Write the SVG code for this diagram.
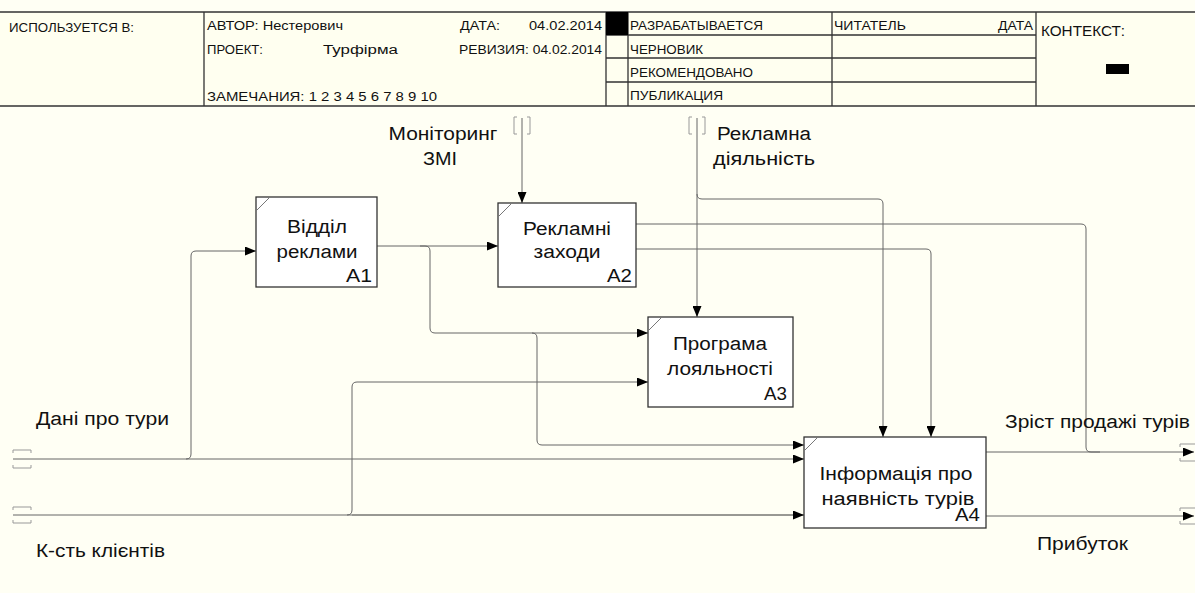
<svg xmlns="http://www.w3.org/2000/svg" width="1195" height="593" viewBox="0 0 1195 593">
<style>
.hdr{font-family:"Liberation Sans",Arial,sans-serif;font-size:12.5px;fill:#111}
.lbl{font-family:"Liberation Sans",Arial,sans-serif;font-size:18px;fill:#111}
.box{fill:#ffffff;stroke:#333;stroke-width:1.3}
.diag{stroke:#777;stroke-width:1}
.cn{fill:none;stroke:#666;stroke-width:1}
.tn{fill:none;stroke:#999;stroke-width:1}
.hl{stroke:#333;stroke-width:1.3;fill:none}
</style>
<defs>
<marker id="ah" markerUnits="userSpaceOnUse" markerWidth="11" markerHeight="9" refX="11" refY="4.5" orient="auto">
<path d="M0,0 L11,4.5 L0,9 z" fill="#000"/>
</marker>
</defs>
<rect x="0" y="0" width="1195" height="593" fill="#fffff4"/>
<g id="header">
<rect x="0" y="12" width="1195" height="94" fill="#fffff0" stroke="none"/>
<path class="hl" d="M0,12 H1195 M0,106 H1195 M204,12 V106 M606,12 V106 M628,12 V106 M832,12 V106 M1036,12 V106 M606,35 H1036 M606,58 H1036 M606,82 H1036"/>
<rect x="606" y="12" width="22" height="23" fill="#000"/>
<rect x="1106" y="64" width="23" height="10" fill="#000"/>
<text class="hdr" x="9" y="32" textLength="125" lengthAdjust="spacingAndGlyphs">ИСПОЛЬЗУЕТСЯ В:</text>
<text class="hdr" x="207" y="30" textLength="136" lengthAdjust="spacingAndGlyphs">АВТОР: Нестерович</text>
<text class="hdr" x="207" y="54" textLength="56" lengthAdjust="spacingAndGlyphs">ПРОЕКТ:</text>
<text class="hdr" x="323" y="54" textLength="75" lengthAdjust="spacingAndGlyphs">Турфірма</text>
<text class="hdr" x="207" y="101" textLength="230" lengthAdjust="spacingAndGlyphs">ЗАМЕЧАНИЯ: 1 2 3 4 5 6 7 8 9 10</text>
<text class="hdr" x="460" y="30" textLength="40" lengthAdjust="spacingAndGlyphs">ДАТА:</text>
<text class="hdr" x="529" y="30" textLength="73" lengthAdjust="spacingAndGlyphs">04.02.2014</text>
<text class="hdr" x="459" y="54" textLength="143" lengthAdjust="spacingAndGlyphs">РЕВИЗИЯ: 04.02.2014</text>
<text class="hdr" x="630" y="30" textLength="133" lengthAdjust="spacingAndGlyphs">РАЗРАБАТЫВАЕТСЯ</text>
<text class="hdr" x="630" y="54" textLength="73" lengthAdjust="spacingAndGlyphs">ЧЕРНОВИК</text>
<text class="hdr" x="630" y="77" textLength="123" lengthAdjust="spacingAndGlyphs">РЕКОМЕНДОВАНО</text>
<text class="hdr" x="630" y="100" textLength="93" lengthAdjust="spacingAndGlyphs">ПУБЛИКАЦИЯ</text>
<text class="hdr" x="834" y="30" textLength="72" lengthAdjust="spacingAndGlyphs">ЧИТАТЕЛЬ</text>
<text class="hdr" x="998" y="30" textLength="35" lengthAdjust="spacingAndGlyphs">ДАТА</text>
<text class="hdr" x="1041" y="36" style="font-size:14px" textLength="84" lengthAdjust="spacingAndGlyphs">КОНТЕКСТ:</text>
</g>
<g id="connectors">
<path class="cn" d="M522,118 V203" marker-end="url(#ah)"/>
<path class="cn" d="M697,118 V317" marker-end="url(#ah)"/>
<path class="cn" d="M697,194 Q697,199 702,199 H878 Q883,199 883,204 V437" marker-end="url(#ah)"/>
<path class="cn" d="M377,246 H498" marker-end="url(#ah)"/>
<path class="cn" d="M420,246 H425 Q430,246 430,251 V328 Q430,333 435,333 H648" marker-end="url(#ah)"/>
<path class="cn" d="M532,333 Q537,333 537,338 V440 Q537,445 542,445 H804" marker-end="url(#ah)"/>
<path class="cn" d="M13,459 H804" marker-end="url(#ah)"/>
<path class="cn" d="M186,459 Q191,459 191,454 V256 Q191,251 196,251 H256" marker-end="url(#ah)"/>
<path class="cn" d="M13,515 H352"/>
<path class="cn" style="stroke:#333" d="M352,515 H804" marker-end="url(#ah)"/>
<path class="cn" d="M347,515 Q352,515 352,510 V387 Q352,382 357,382 H648" marker-end="url(#ah)"/>
<path class="cn" d="M636,224 H1081 Q1086,224 1086,229 V447 Q1086,452 1091,452 H1100"/>
<path class="cn" d="M636,249 H926 Q931,249 931,254 V437" marker-end="url(#ah)"/>
<path class="cn" d="M986,452 H1194" marker-end="url(#ah)"/>
<path class="cn" d="M986,516 H1194" marker-end="url(#ah)"/>
<path class="tn" d="M517,117 H514 V134 H517 M527,117 H530 V134 H527"/>
<path class="tn" d="M692,117 H689 V134 H692 M702,117 H705 V134 H702"/>
<path class="tn" d="M13,453 V450 H31 V453 M13,465 V468 H31 V465"/>
<path class="tn" d="M13,510 V507 H31 V510 M13,520 V523 H31 V520"/>
<path class="tn" d="M1180,447 V444 H1195 M1180,458 V461 H1195"/>
<path class="tn" d="M1180,511 V508 H1195 M1180,521 V524 H1195"/>
</g>
<g id="A1">
<rect class="box" x="256" y="197" width="121" height="90"/>
<line class="diag" x1="256" y1="211" x2="270" y2="197"/>
<text class="lbl" x="317" y="233" text-anchor="middle" textLength="60" lengthAdjust="spacingAndGlyphs">Відділ</text>
<text class="lbl" x="317" y="258" text-anchor="middle" textLength="81" lengthAdjust="spacingAndGlyphs">реклами</text>
<text class="lbl" x="372" y="282" text-anchor="end" textLength="26" lengthAdjust="spacingAndGlyphs">А1</text>
</g>
<g id="A2">
<rect class="box" x="498" y="203" width="138" height="84"/>
<line class="diag" x1="498" y1="217" x2="512" y2="203"/>
<text class="lbl" x="567" y="235" text-anchor="middle" textLength="88" lengthAdjust="spacingAndGlyphs">Рекламні</text>
<text class="lbl" x="567" y="258" text-anchor="middle" textLength="67" lengthAdjust="spacingAndGlyphs">заходи</text>
<text class="lbl" x="632" y="282" text-anchor="end" textLength="25" lengthAdjust="spacingAndGlyphs">А2</text>
</g>
<g id="A3">
<rect class="box" x="648" y="317" width="145" height="90"/>
<line class="diag" x1="648" y1="331" x2="662" y2="317"/>
<text class="lbl" x="720" y="350" text-anchor="middle" textLength="94" lengthAdjust="spacingAndGlyphs">Програма</text>
<text class="lbl" x="720" y="375" text-anchor="middle" textLength="106" lengthAdjust="spacingAndGlyphs">лояльності</text>
<text class="lbl" x="787" y="400" text-anchor="end" textLength="23" lengthAdjust="spacingAndGlyphs">А3</text>
</g>
<g id="A4">
<rect class="box" x="804" y="437" width="182" height="91"/>
<line class="diag" x1="804" y1="451" x2="818" y2="437"/>
<text class="lbl" x="896" y="480" text-anchor="middle" textLength="153" lengthAdjust="spacingAndGlyphs">Інформація про</text>
<text class="lbl" x="898" y="505" text-anchor="middle" textLength="153" lengthAdjust="spacingAndGlyphs">наявність турів</text>
<text class="lbl" x="980" y="521" text-anchor="end" textLength="25" lengthAdjust="spacingAndGlyphs">А4</text>
</g>
<g id="labels">
<text class="lbl" x="443" y="140" text-anchor="middle" textLength="109" lengthAdjust="spacingAndGlyphs">Моніторинг</text>
<text class="lbl" x="440" y="165" text-anchor="middle" textLength="34" lengthAdjust="spacingAndGlyphs">ЗМІ</text>
<text class="lbl" x="764" y="140" text-anchor="middle" textLength="94" lengthAdjust="spacingAndGlyphs">Рекламна</text>
<text class="lbl" x="764" y="165" text-anchor="middle" textLength="102" lengthAdjust="spacingAndGlyphs">діяльність</text>
<text class="lbl" x="36" y="425" textLength="133" lengthAdjust="spacingAndGlyphs">Дані про тури</text>
<text class="lbl" x="36" y="557" textLength="129" lengthAdjust="spacingAndGlyphs">К-сть клієнтів</text>
<text class="lbl" x="1005" y="428" textLength="185" lengthAdjust="spacingAndGlyphs">Зріст продажі турів</text>
<text class="lbl" x="1037" y="550" textLength="91" lengthAdjust="spacingAndGlyphs">Прибуток</text>
</g>
</svg>
